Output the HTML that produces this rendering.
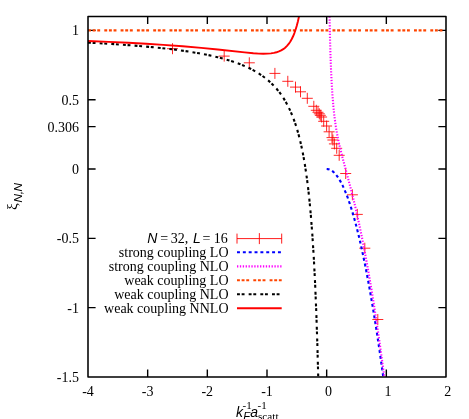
<!DOCTYPE html>
<html><head><meta charset="utf-8"><style>
html,body{margin:0;padding:0;background:#fff;}
body{width:469px;height:419px;overflow:hidden;font-family:"Liberation Serif",serif;}
svg{display:block}
text{font-family:"Liberation Serif",serif;font-size:14px;fill:#000}
</style></head><body>
<svg style="will-change:transform" width="469" height="419" viewBox="0 0 469 419">
<rect width="469" height="419" fill="#fff"/>
<g fill="none" stroke-linecap="butt" stroke-linejoin="round">
<path d="M147.67 377.00V369.40M147.67 16.50V24.10M207.33 377.00V369.40M207.33 16.50V24.10M267.00 377.00V369.40M267.00 16.50V24.10M326.67 377.00V369.40M326.67 16.50V24.10M386.33 377.00V369.40M386.33 16.50V24.10M88.00 30.37H95.60M446.00 30.37H438.40M88.00 99.69H95.60M446.00 99.69H438.40M88.00 126.59H95.60M446.00 126.59H438.40M88.00 169.02H95.60M446.00 169.02H438.40M88.00 238.35H95.60M446.00 238.35H438.40M88.00 307.67H95.60M446.00 307.67H438.40" stroke="#000" stroke-width="1.4"/>
<path d="M167.0 48.7H178.0M172.5 43.2V54.2M218.7 56.1H229.7M224.2 50.6V61.6M243.8 62.8H254.8M249.3 57.3V68.3M269.4 73.4H280.4M274.9 67.9V78.9M282.3 81.3H293.3M287.8 75.8V86.8M290.0 87.1H301.0M295.5 81.6V92.6M295.0 91.8H306.0M300.5 86.3V97.3M301.8 98.3H312.8M307.3 92.8V103.8M308.3 106.3H319.3M313.8 100.8V111.8M310.8 110.3H321.8M316.3 104.8V115.8M312.5 112.3H323.5M318.0 106.8V117.8M313.8 113.8H324.8M319.3 108.3V119.3M314.8 115.3H325.8M320.3 109.8V120.8M316.1 117.0H327.1M321.6 111.5V122.5M318.2 121.3H329.2M323.7 115.8V126.8M321.1 126.0H332.1M326.6 120.5V131.5M323.6 131.8H334.6M329.1 126.3V137.3M326.5 137.6H337.5M332.0 132.1V143.1M327.4 140.0H338.4M332.9 134.5V145.5M328.9 143.9H339.9M334.4 138.4V149.4M331.2 148.3H342.2M336.7 142.8V153.8M333.7 155.3H344.7M339.2 149.8V160.8M340.2 173.5H351.2M345.7 168.0V179.0M346.9 194.8H357.9M352.4 189.3V200.3M351.8 214.4H362.8M357.3 208.9V219.9M359.3 248.2H370.3M364.8 242.7V253.7M372.3 319.5H383.3M377.8 314.0V325.0" stroke="#ff0000" stroke-width="0.85"/>
<path d="M326.67 169.02 L327.62 169.08 L328.46 169.23 L329.29 169.47 L330.25 169.85 L331.92 170.81 L332.75 171.42 L333.71 172.24 L335.50 174.08 L337.29 176.34 L338.96 178.83 L340.75 181.89 L342.54 185.37 L344.33 189.27 L346.00 193.28 L347.79 197.98 L349.58 203.09 L351.37 208.63 L353.16 214.58 L354.95 220.94 L356.74 227.72 L358.53 234.92 L360.32 242.53 L362.11 250.56 L365.57 267.26 L369.15 286.17 L372.73 306.75 L376.19 328.22 L379.77 352.07 L383.27 377.00" stroke="#0000ff" stroke-width="2.1" stroke-dasharray="2.95 2.9"/>
<path d="M329.53 16.50 L329.99 37.47 L330.48 54.93 L331.07 70.69 L331.74 84.12 L332.52 96.23 L333.42 106.96 L334.46 116.63 L335.67 125.50 L336.49 130.63 L337.39 135.57 L338.41 140.60 L339.55 145.71 L340.87 151.22 L342.43 157.32 L350.48 187.40 L354.46 203.36 L356.94 214.02 L359.36 224.96 L361.75 236.39 L364.09 248.20 L366.65 261.79 L369.20 276.14 L371.74 291.13 L374.27 306.88 L376.78 323.25 L379.29 340.40 L381.79 358.32 L384.30 377.00" stroke="#ff00ff" stroke-width="2.1" stroke-dasharray="1.3 1.58"/>
<path d="M88.0 30.37H446.0" stroke="#ff4500" stroke-width="2.1" stroke-dasharray="2.9 1.73 2.9 1.73 2.9 4.14"/>
<path d="M88.00 42.63 L111.69 43.98 L133.02 45.47 L142.91 46.29 L152.22 47.14 L161.06 48.03 L169.55 48.99 L177.56 49.99 L185.10 51.03 L192.29 52.14 L199.12 53.31 L205.61 54.53 L211.73 55.82 L217.63 57.20 L223.16 58.64 L228.47 60.16 L233.42 61.74 L238.25 63.46 L242.73 65.22 L246.97 67.08 L250.98 69.02 L254.86 71.12 L258.52 73.30 L261.93 75.57 L265.23 77.99 L268.42 80.60 L271.36 83.27 L274.19 86.12 L276.78 89.02 L279.37 92.24 L281.73 95.48 L283.97 98.90 L286.21 102.69 L288.21 106.46 L290.22 110.64 L292.10 115.02 L293.87 119.58 L295.52 124.30 L297.05 129.16 L298.58 134.55 L300.00 140.08 L301.29 145.68 L302.59 151.89 L303.89 158.81 L305.06 165.81 L306.12 172.81 L307.19 180.56 L308.13 188.20 L309.07 196.65 L310.01 206.07 L310.84 215.23 L312.37 235.03 L313.78 257.50 L315.08 282.91 L316.26 311.51 L317.32 343.41 L318.23 377.00" stroke="#000" stroke-width="2.1" stroke-dasharray="2.9 1.74 2.9 4.125"/>
<path d="M88.00 41.02 L108.75 41.86 L128.07 42.78 L146.17 43.77 L163.28 44.84 L182.71 46.27 L201.25 47.87 L217.81 49.52 L244.63 52.42 L253.35 53.24 L258.76 53.59 L263.29 53.73 L267.37 53.66 L270.91 53.38 L273.89 52.93 L276.53 52.29 L278.96 51.46 L281.17 50.43 L283.27 49.16 L285.14 47.71 L287.02 45.90 L288.68 43.93 L290.22 41.70 L291.77 39.01 L293.09 36.27 L294.42 33.04 L295.63 29.56 L296.85 25.50 L297.95 21.20 L298.99 16.50" stroke="#ff0000" stroke-width="1.9"/>
<path d="M237.0 238.6H281.7M237.0 233.6V243.6M281.7 233.6V243.6M259.35 233.1V244.1" stroke="#ff0000" stroke-width="0.9"/>
<path d="M237.0 252.3H281.7" stroke="#0000ff" stroke-width="2.1" stroke-dasharray="2.95 2.9"/>
<path d="M237.0 266.4H281.7" stroke="#ff00ff" stroke-width="2.1" stroke-dasharray="1.3 1.58"/>
<path d="M237.0 280.2H281.7" stroke="#ff4500" stroke-width="2.1" stroke-dasharray="2.9 1.73 2.9 1.73 2.9 4.14"/>
<path d="M237.0 294.2H281.7" stroke="#000" stroke-width="2.1" stroke-dasharray="2.9 1.74 2.9 4.125"/>
<path d="M237.0 308.2H281.7" stroke="#ff0000" stroke-width="1.9"/>
<rect x="88.0" y="16.5" width="358.0" height="360.5" stroke="#000" stroke-width="1.55"/>
</g>
<text x="78.9" y="35.4" text-anchor="end">1</text><text x="78.9" y="104.7" text-anchor="end">0.5</text><text x="78.9" y="131.6" text-anchor="end">0.306</text><text x="78.9" y="174.0" text-anchor="end">0</text><text x="78.9" y="243.3" text-anchor="end">-0.5</text><text x="78.9" y="312.7" text-anchor="end">-1</text><text x="78.9" y="382.0" text-anchor="end">-1.5</text><text x="88.0" y="396.4" text-anchor="middle">-4</text><text x="147.7" y="396.4" text-anchor="middle">-3</text><text x="207.3" y="396.4" text-anchor="middle">-2</text><text x="267.0" y="396.4" text-anchor="middle">-1</text><text x="328.4" y="396.4" text-anchor="middle">0</text><text x="388.1" y="396.4" text-anchor="middle">1</text><text x="447.8" y="396.4" text-anchor="middle">2</text><text x="228.5" y="256.8" text-anchor="end">strong coupling LO</text><text x="228.5" y="270.9" text-anchor="end">strong coupling NLO</text><text x="228.5" y="284.7" text-anchor="end">weak coupling LO</text><text x="228.5" y="298.7" text-anchor="end">weak coupling NLO</text><text x="228.5" y="312.7" text-anchor="end">weak coupling NNLO</text><text x="147.3" y="243.1" style="font-family:'Liberation Sans';font-style:italic">N</text><text x="160.2" y="243.1">=</text><text x="170.7" y="243.1">32,</text><text x="193.0" y="243.1" style="font-family:'Liberation Sans';font-style:italic">L</text><text x="202.6" y="243.1">=</text><text x="213.7" y="243.1">16</text>
<g transform="translate(17.0 210.2) rotate(-90)">
<text x="0.2" y="0" style="font-size:15.2px">ξ</text>
<text x="7.7" y="4.7" style="font-family:'Liberation Sans';font-size:11.8px;font-style:italic;letter-spacing:-0.35px">N,N</text>
</g>
<g>
<text x="236" y="416.7" style="font-family:'Liberation Sans';font-style:italic">k</text>
<text x="242.6" y="408.7" style="font-size:11px">-1</text>
<text x="243.3" y="420.2" style="font-family:'Liberation Sans';font-size:11.2px;font-style:italic">F</text>
<text x="250.2" y="416.7" style="font-family:'Liberation Sans';font-style:italic">a</text>
<text x="257.6" y="408.7" style="font-size:11px">-1</text>
<text x="258" y="420.3" style="font-size:11.2px">scatt</text>
</g>
</svg>
</body></html>
